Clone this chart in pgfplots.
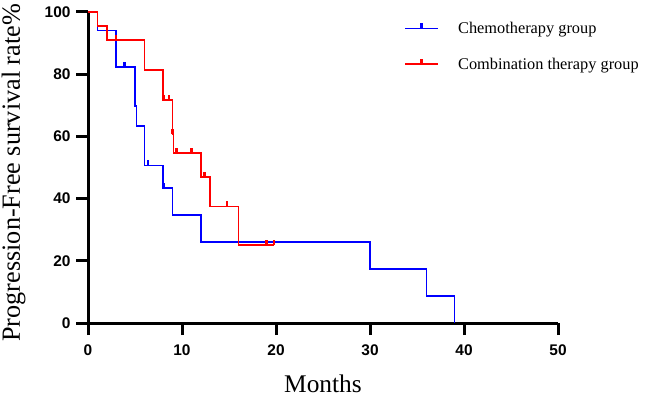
\documentclass[border=0pt]{standalone}
\usepackage{pgfplots}
\pgfplotsset{compat=1.18}
\usepackage{fontspec}
\setmainfont{Liberation Serif}
\newfontfamily\arialfont{Liberation Sans}
\definecolor{kmblue}{RGB}{0,0,255}
\definecolor{kmred}{RGB}{255,0,0}
\pgfdeclareplotmark{censor}{%
  \pgfpathmoveto{\pgfpoint{0bp}{0bp}}%
  \pgfpathlineto{\pgfpoint{0bp}{5bp}}%
  \pgfusepathqstroke}
\begin{document}
\begin{tikzpicture}
\begin{axis}[
  name=ax,
  width=470bp, height=311bp, scale only axis,
  xmin=0, xmax=50, ymin=0, ymax=100,
  xtick={0,10,...,50}, ytick={0,20,...,100},
  axis lines=left,
  axis line style={-, line width=3bp, black},
  tick align=outside, major tick length=12bp,
  tick style={line width=3bp, black},
  ticklabel style={font=\arialfont\bfseries\fontsize{15.5}{15.5}\selectfont},
  xticklabel style={yshift=-6bp},
  yticklabel style={xshift=-2bp},
  /pgf/number format/assume math mode=true,
  clip=false,
  xlabel={Months},
  ylabel={Progression-Free survival rate\%},
  xlabel style={font=\fontsize{25.5}{26}\selectfont, at={(axis description cs:0.5,-0.222)}, anchor=base},
  ylabel style={font=\fontsize{26.3}{27}\selectfont, at={(axis description cs:-0.1447,0.483)}, anchor=base},
  legend style={draw=none, fill=none, at={(axis description cs:0.673,0.975)}, anchor=north west,
    font=\fontsize{16.4}{16.4}\selectfont, row sep=19bp, column sep=0bp, inner sep=0bp},
  legend cell align=left,
  legend image code/.code={%
    \draw[#1] (0bp,0bp) -- (33bp,0bp);
    \draw[#1, line width=2.5bp] (16bp,0bp) -- (16bp,5bp);},
]
% Chemotherapy group
\addplot[kmblue, line width=1.6bp, const plot, mark=none] coordinates {
  (0,100) (1,94.1) (3,82.4) (5,69.7) (5.15,63.4) (6,50.7) (8,43.5) (9,34.8) (12,26.1) (30,17.4) (36,8.7) (39,0)
};
\addlegendentry{\hspace{17bp}Chemotherapy group}
% Combination therapy group
\addplot[kmred, line width=1.6bp, const plot, mark=none] coordinates {
  (0,100) (1,95.5) (2,90.9) (6,81.3) (8,71.8) (9,60.8) (9.1,54.7) (12,46.9) (13,37.5) (16,25.0) (19.8,25.0)
};
\addlegendentry{\hspace{17bp}Combination therapy group}
% censor marks
\addplot[kmblue, only marks, mark=censor, mark options={line width=2.5bp}, forget plot] coordinates {
  (3.9,82.4) (6.4,50.7) (8.05,43.5)
};
\addplot[kmred, only marks, mark=censor, mark options={line width=2.5bp}, forget plot] coordinates {
  (3,90.9) (8.1,71.8) (8.6,71.8) (9,60.8) (9.4,54.7) (11,54.7) (12.4,46.9) (14.8,37.5) (19,25.0) (19.8,25.0)
};
\end{axis}
\pgfresetboundingbox
\path ([shift={(-88bp,-80bp)}]ax.south west) rectangle ([shift={(88bp,12bp)}]ax.north east);
\end{tikzpicture}
\end{document}
